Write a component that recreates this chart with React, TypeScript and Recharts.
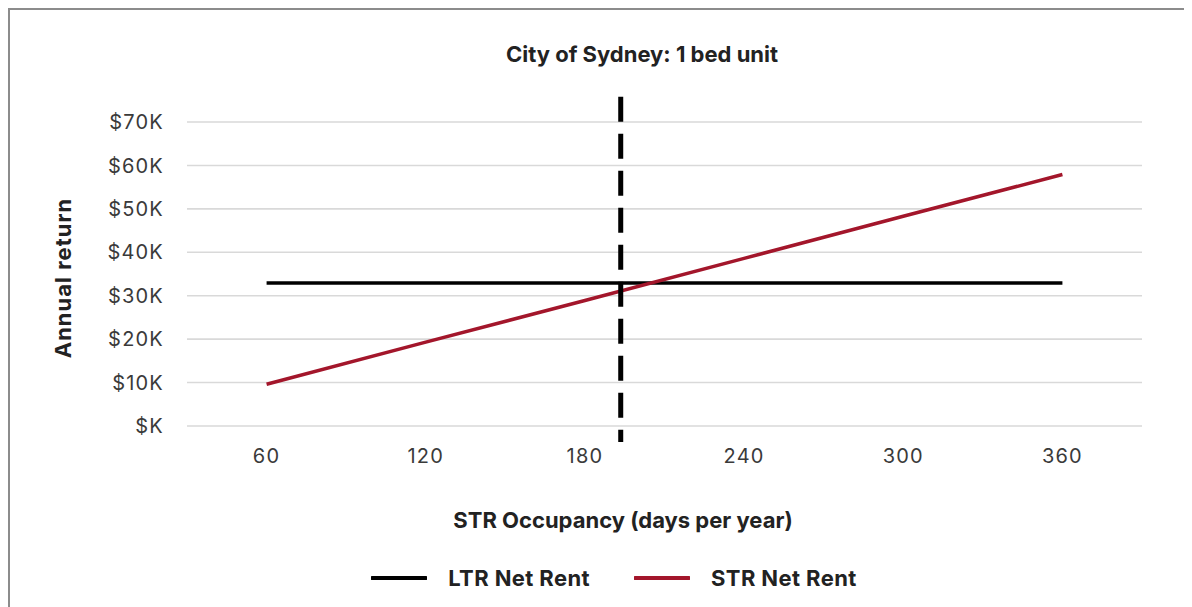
import React from 'react';
import {
  LineChart,
  Line,
  XAxis,
  YAxis,
  CartesianGrid,
  ReferenceLine,
  Legend,
} from 'recharts';

// Occupancy levels (days per year) on the x axis
const occupancyDays = [60, 120, 180, 240, 300, 360];
// Long-term rental net rent (flat, independent of occupancy)
const ltrNetRent = [32900, 32900, 32900, 32900, 32900, 32900];
// Short-term rental net rent at each occupancy level
const strNetRent = [9600, 19300, 28900, 38600, 48300, 57900];
// Y axis ticks
const returnTicks = [0, 10000, 20000, 30000, 40000, 50000, 60000, 70000];
// Current occupancy marker (days per year)
const markerDays = 193.5;
// Marker extent in y units (reaches a little past the grid on both ends)
const markerTop = 75800;
const markerBottom = -3700;

const chartData = occupancyDays.map((d, i) => ({
  days: d,
  ltr: ltrNetRent[i],
  str: strNetRent[i],
}));

const FONT = 'Inter, "Noto Sans", sans-serif';
const RED = '#a3162b';

const formatK = (v: number) => `$${v === 0 ? '' : v / 1000}K`;

const renderLegend = (props: any) => {
  const { payload } = props;
  return (
    <div style={{ display: 'flex', justifyContent: 'center', alignItems: 'center' }}>
      {payload.map((entry: any, i: number) => (
        <div
          key={entry.value}
          style={{ display: 'flex', alignItems: 'center', marginLeft: i === 0 ? 0 : 44 }}
        >
          <svg width={56} height={6} style={{ marginRight: 21 }}>
            <line x1={1} y1={3} x2={55} y2={3} stroke={entry.color} strokeWidth={4} strokeLinecap="round" />
          </svg>
          <span style={{ fontWeight: 700, fontSize: 22, color: '#222', letterSpacing: 0.4 }}>
            {entry.value}
          </span>
        </div>
      ))}
    </div>
  );
};

export default function App() {
  return (
    <div
      style={{
        position: 'relative',
        width: 1184,
        height: 599,
        fontFamily: FONT,
        boxSizing: 'border-box',
        borderTop: '2px solid #8c8c8c',
        borderLeft: '2px solid #8c8c8c',
        background: '#fff',
      }}
    >
      <div
        style={{
          position: 'absolute',
          left: 0,
          top: 0,
        }}
      >
        <LineChart
          width={1182}
          height={597}
          data={chartData}
          margin={{ top: 112, right: 50, bottom: 151, left: 97 }}
        >
          <CartesianGrid vertical={false} stroke="#d9d9d9" strokeWidth={1.6} />
          <XAxis
            dataKey="days"
            type="number"
            domain={[30, 390]}
            ticks={occupancyDays}
            axisLine={false}
            tickLine={false}
            tickMargin={17}
            tick={{ fill: '#3a3a3a', fontSize: 20, letterSpacing: 1.2 }}
            height={30}
          />
          <YAxis
            domain={[0, 70000]}
            ticks={returnTicks}
            tickFormatter={formatK}
            axisLine={false}
            tickLine={false}
            tickMargin={17}
            width={80}
            tick={{ fill: '#3a3a3a', fontSize: 20, letterSpacing: 1.2 }}
            allowDataOverflow
          />
          <Line
            type="linear"
            dataKey="ltr"
            name="LTR Net Rent"
            stroke="#000"
            strokeWidth={3.5}
            dot={false}
            activeDot={false}
            isAnimationActive={false}
          />
          <Line
            type="linear"
            dataKey="str"
            name="STR Net Rent"
            stroke={RED}
            strokeWidth={3.5}
            dot={false}
            activeDot={false}
            isAnimationActive={false}
          />
          <ReferenceLine
            segment={[
              { x: markerDays, y: markerTop },
              { x: markerDays, y: markerBottom },
            ]}
            stroke="#000"
            strokeWidth={5}
            strokeDasharray="25 12"
            ifOverflow="visible"
          />
          <Legend
            verticalAlign="middle"
            align="center"
            content={renderLegend}
            wrapperStyle={{ top: 555, left: 0, width: 1208 }}
          />
        </LineChart>
      </div>
      {/* Chart title */}
      <div
        style={{
          position: 'absolute',
          top: 31,
          left: 0,
          width: 1264,
          textAlign: 'center',
          fontWeight: 700,
          fontSize: 22,
          color: '#222',
          letterSpacing: 0,
        }}
      >
        City of Sydney: 1 bed unit
      </div>
      {/* X axis title */}
      <div
        style={{
          position: 'absolute',
          top: 497,
          left: 0,
          width: 1226,
          textAlign: 'center',
          fontWeight: 700,
          fontSize: 22,
          color: '#222',
          letterSpacing: 0,
        }}
      >
        STR Occupancy (days per year)
      </div>
      {/* Y axis title */}
      <div
        style={{
          position: 'absolute',
          left: 53,
          top: 268,
          transform: 'translate(-50%, -50%) rotate(-90deg)',
          whiteSpace: 'nowrap',
          fontWeight: 700,
          fontSize: 22,
          color: '#222',
          letterSpacing: 1,
        }}
      >
        Annual return
      </div>
    </div>
  );
}
